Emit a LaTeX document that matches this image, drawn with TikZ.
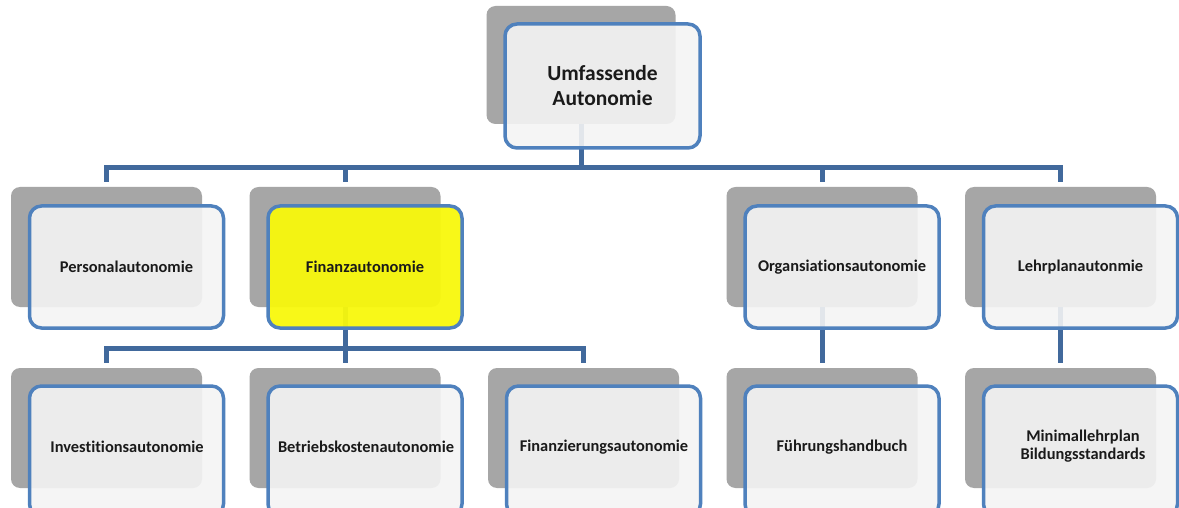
\documentclass[tikz,border=0pt]{standalone}
\usepackage{fontspec}
\setmainfont{Carlito}[Ligatures=NoCommon]
\definecolor{shadowgray}{HTML}{A6A6A6}
\definecolor{boxblue}{HTML}{4F81BD}
\definecolor{lineblue}{HTML}{41699C}
\definecolor{frontfill}{HTML}{F4F4F4}
\definecolor{hilite}{HTML}{F8F80C}
\definecolor{textblack}{HTML}{1A1A1A}
\begin{document}
\begin{tikzpicture}[x=1pt,y=-1pt,
  backbox/.style={fill=shadowgray, rounded corners=9pt, minimum width=191pt,
    minimum height=120pt, inner sep=0pt},
  frontbox/.style={draw=boxblue, line width=3.5pt, fill=frontfill, fill opacity=0.9,
    text opacity=1, rounded corners=12pt, minimum width=194pt, minimum height=122pt,
    inner sep=0pt, align=center, text=textblack, font=\labelfont},
  lowbox/.style={frontbox, minimum height=130pt},
  label/.style={text=textblack, font=\labelfont, align=center},
  conn/.style={draw=lineblue, line width=5pt, shorten >=5pt}
]
\def\labelfont{\fontsize{16.4}{18}\selectfont\bfseries}
\fill[white] (0,0) rectangle (1179,508);
\clip (0,0) rectangle (1179,508);

% shadow boxes
\node[backbox, minimum width=189pt, minimum height=118pt] (topB) at (581,65) {};
\node[backbox] (persB) at (106.5,247) {};
\node[backbox] (finB)  at (345,247) {};
\node[backbox] (orgB)  at (822,247) {};
\node[backbox] (lehrB) at (1060.5,247) {};
\node[backbox] (invB)  at (106.5,428) {};
\node[backbox] (betrB) at (345,428) {};
\node[backbox] (fiB)   at (583.5,428) {};
\node[backbox] (fuehB) at (822,428) {};
\node[backbox] (minB)  at (1060.5,428) {};

% connectors
\foreach \c in {persB,finB,orgB,lehrB}
  \draw[conn] (topB.south) -- ++(0,43) -| (\c.north);
\foreach \c in {invB,betrB,fiB}
  \draw[conn] (finB.south) -- ++(0,41) -| (\c.north);
\draw[conn] (orgB.south) -- (fuehB.north);
\draw[conn] (lehrB.south) -- (minB.north);

% front boxes
\node[frontbox, minimum width=195pt, minimum height=124pt,
      font=\fontsize{21.5}{25}\selectfont\bfseries] (top) at (602.5,86)
  {Umfassende\\Autonomie};
\node[frontbox] (pers) at (126.5,267) {Personalautonomie};
\node[frontbox, fill=hilite, fill opacity=0.95] (fin) at (365,267) {Finanzautonomie};
\node[frontbox] (org)  at (842,267) {Organsiationsautonomie};
\node[frontbox] (lehr) at (1080.5,267) {Lehrplanautonmie};
\node[lowbox] (inv)  at (126.5,451) {};
\node[lowbox] (betr) at (365,451) {};
\node[lowbox] (fi)   at (603.5,451) {};
\node[lowbox] (fueh) at (842,451) {};
\node[lowbox] (mini) at (1080.5,451) {};
\node[label] (invT)  at (127,447) {Investitionsautonomie};
\node[label] (betrT) at (366,447) {Betriebskostenautonomie};
\node[label] (fiT)   at (604,447) {Finanzierungsautonomie};
\node[label] (fuehT) at (842,447) {Führungshandbuch};
\node[label] (minT)  at (1083,446.5) {Minimallehrplan\\Bildungsstandards};
\end{tikzpicture}
\end{document}
